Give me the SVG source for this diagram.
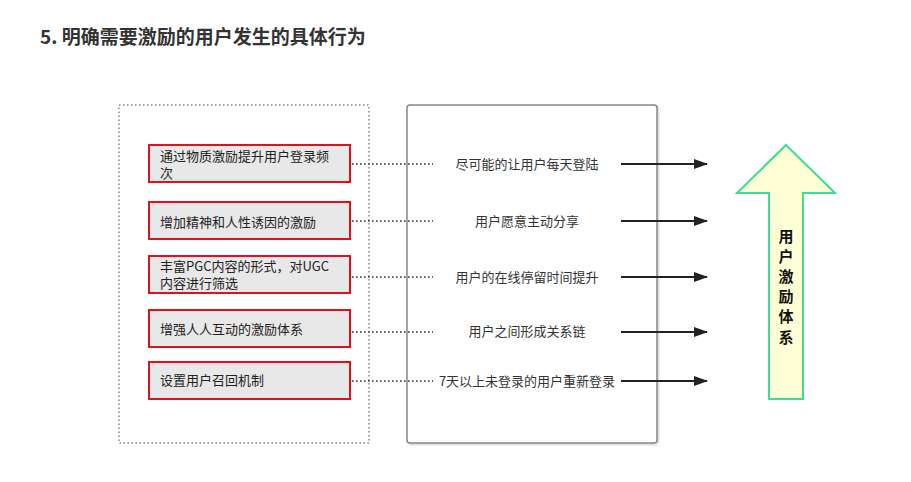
<svg xmlns="http://www.w3.org/2000/svg" width="911" height="482" viewBox="0 0 911 482">
<style>
text{font-family:"Noto Sans CJK SC","Noto Sans",sans-serif}
.title{font-size:19px;font-weight:bold;fill:#333}
.rb{fill:#e8e8e8;stroke:#e0101e;stroke-width:2}
.lt{font-size:13px;fill:#222}
.rt{font-size:13px;fill:#333;text-anchor:middle}
.dot{stroke:#333;stroke-width:1.6;stroke-dasharray:1.6 2.4;fill:none}
.arr{stroke:#222;stroke-width:2;fill:none;marker-end:url(#ah)}
.vt{font-size:15px;font-weight:bold;fill:#111;text-anchor:middle;writing-mode:vertical-rl;letter-spacing:5.2px}
</style>
<defs>
<marker id="ah" markerWidth="14" markerHeight="10" refX="13" refY="5" orient="auto" markerUnits="userSpaceOnUse">
<path d="M0,0 L14,5 L0,10 Z" fill="#222"/>
</marker>
<filter id="sh" x="-5%" y="-5%" width="110%" height="110%">
<feDropShadow dx="1" dy="1" stdDeviation="1" flood-color="#000" flood-opacity="0.2"/>
</filter>
</defs>
<rect width="911" height="482" fill="#fff"/>
<text class="title" x="40" y="44">5. 明确需要激励的用户发生的具体行为</text>

<g id="outer-left">
<rect x="119" y="105" width="250" height="338" fill="#fff" stroke="#888" stroke-width="1.5" stroke-dasharray="1.5 2.5"/>
</g>
<g id="outer-right">
<rect x="407" y="105" width="250" height="338" rx="3" fill="#fff" stroke="#888" stroke-width="1.5" filter="url(#sh)"/>
</g>

<g id="n1"><rect class="rb" x="149" y="145" width="201" height="37"/>
<text class="lt" x="160" y="161">通过物质激励提升用户登录频<tspan x="160" dy="17">次</tspan></text></g>
<g id="n2"><rect class="rb" x="149" y="202" width="201" height="37"/>
<text class="lt" x="160" y="227">增加精神和人性诱因的激励</text></g>
<g id="n3"><rect class="rb" x="149" y="256" width="201" height="37"/>
<text class="lt" x="160" y="271">丰富PGC内容的形式，对UGC<tspan x="160" dy="17">内容进行筛选</tspan></text></g>
<g id="n4"><rect class="rb" x="149" y="310" width="201" height="37"/>
<text class="lt" x="160" y="334">增强人人互动的激励体系</text></g>
<g id="n5"><rect class="rb" x="149" y="362" width="201" height="37"/>
<text class="lt" x="160" y="385">设置用户召回机制</text></g>

<g id="r1"><text class="rt" x="527" y="169">尽可能的让用户每天登陆</text></g>
<g id="r2"><text class="rt" x="527" y="226">用户愿意主动分享</text></g>
<g id="r3"><text class="rt" x="527" y="282">用户的在线停留时间提升</text></g>
<g id="r4"><text class="rt" x="527" y="336">用户之间形成关系链</text></g>
<g id="r5"><text class="rt" x="527" y="386">7天以上未登录的用户重新登录</text></g>

<g id="connectors">
<line class="dot" x1="352" y1="164" x2="433" y2="164"/>
<line class="dot" x1="352" y1="221" x2="433" y2="221"/>
<line class="dot" x1="352" y1="277" x2="433" y2="277"/>
<line class="dot" x1="352" y1="332" x2="433" y2="332"/>
<line class="dot" x1="352" y1="381" x2="433" y2="381"/>
<line class="arr" x1="621" y1="164" x2="707" y2="164"/>
<line class="arr" x1="621" y1="221" x2="707" y2="221"/>
<line class="arr" x1="621" y1="277" x2="707" y2="277"/>
<line class="arr" x1="621" y1="332" x2="707" y2="332"/>
<line class="arr" x1="621" y1="381" x2="707" y2="381"/>
</g>

<g id="big-arrow">
<path d="M786,145 L835,193 L803,193 L803,399 L769,399 L769,193 L737,193 Z" fill="#ffffd6" stroke="#3ddc97" stroke-width="2" stroke-linejoin="miter"/>
<text class="vt" x="786" y="289">用户激励体系</text>
</g>
</svg>
